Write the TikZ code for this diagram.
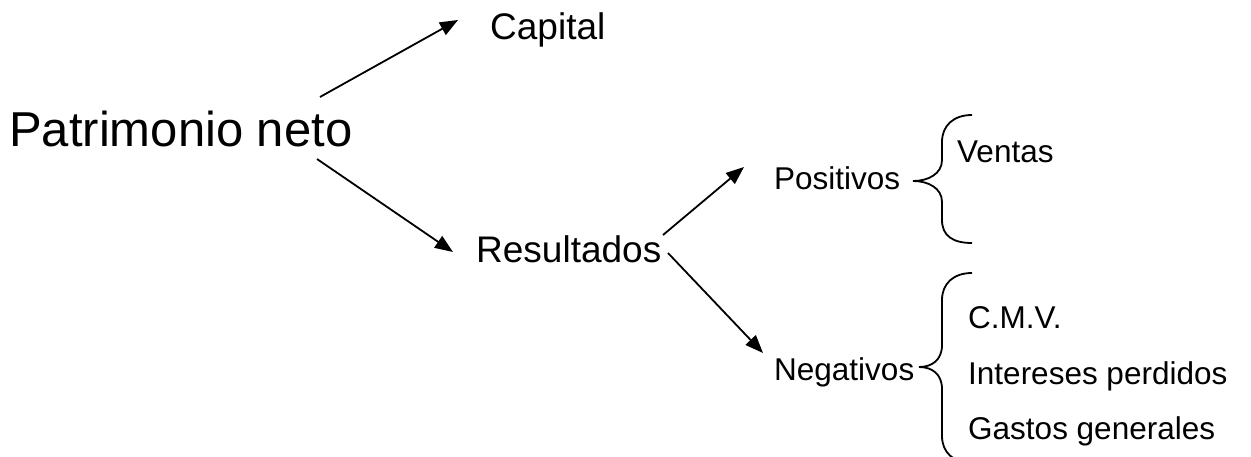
\documentclass[tikz,border=0pt]{standalone}
\usepackage{fontspec}
\setmainfont{Liberation Sans}
\usetikzlibrary{arrows.meta}
\tikzset{
  lbl/.style={anchor=base west, inner sep=0pt, font=\fontsize{31.5}{38}\selectfont},
  midlbl/.style={anchor=base west, inner sep=0pt, font=\fontsize{37}{44}\selectfont},
  biglbl/.style={anchor=base west, inner sep=0pt, font=\fontsize{49}{59}\selectfont},
  arr/.style={line width=1.8pt, -{Triangle[length=18pt,width=14pt]}},
  bracestyle/.style={line width=1.8pt}
}
\begin{document}
\begin{tikzpicture}[x=1pt,y=-1pt]
\useasboundingbox (0,0) rectangle (1251,457);
\clip (0,0) rectangle (1251,457);
\fill[white] (0,0) rectangle (1251,457);
% texts
\node[biglbl] (pn) at (9,147) {Patrimonio neto};
\node[midlbl] (cap) at (490,40) {Capital};
\node[midlbl] (res) at (476,262) {Resultados};
\node[lbl] (pos) at (774,190) {Positivos};
\node[lbl] (neg) at (774,380) {Negativos};
\node[lbl] (ven) at (957,163) {Ventas};
\node[lbl] (cmv) at (968,328) {C.M.V.};
\node[lbl] (int) at (968,384) {Intereses perdidos};
\node[lbl] (gas) at (968,439) {Gastos generales};
% connector ends
\coordinate (pnA) at (320,97);
\coordinate (capA) at (458,20);
\coordinate (pnB) at (317,159);
\coordinate (resA) at (453,252);
\coordinate (resB) at (663,235);
\coordinate (posA) at (744,167);
\coordinate (resC) at (668,253);
\coordinate (negA) at (763,353);
\draw[arr] (pnA) -- (capA);
\draw[arr] (pnB) -- (resA);
\draw[arr] (resB) -- (posA);
\draw[arr] (resC) -- (negA);
% braces
\coordinate (b1tip) at (913,181);
\coordinate (b2tip) at (919,367);
\draw[bracestyle] (972,115) .. controls (953,115) and (942,126) .. (942,142)
  -- (942,160) .. controls (942,174) and (928,181) .. (b1tip)
  .. controls (928,181) and (942,188) .. (942,202)
  -- (942,220) .. controls (942,236) and (953,243) .. (972,243);
\draw[bracestyle] (972,273) .. controls (953,273) and (942,284) .. (942,300)
  -- (942,345) .. controls (942,360) and (932,367) .. (b2tip)
  .. controls (932,367) and (942,374) .. (942,389)
  -- (942,436) .. controls (942,452) and (953,463) .. (972,463);
\end{tikzpicture}
\end{document}
